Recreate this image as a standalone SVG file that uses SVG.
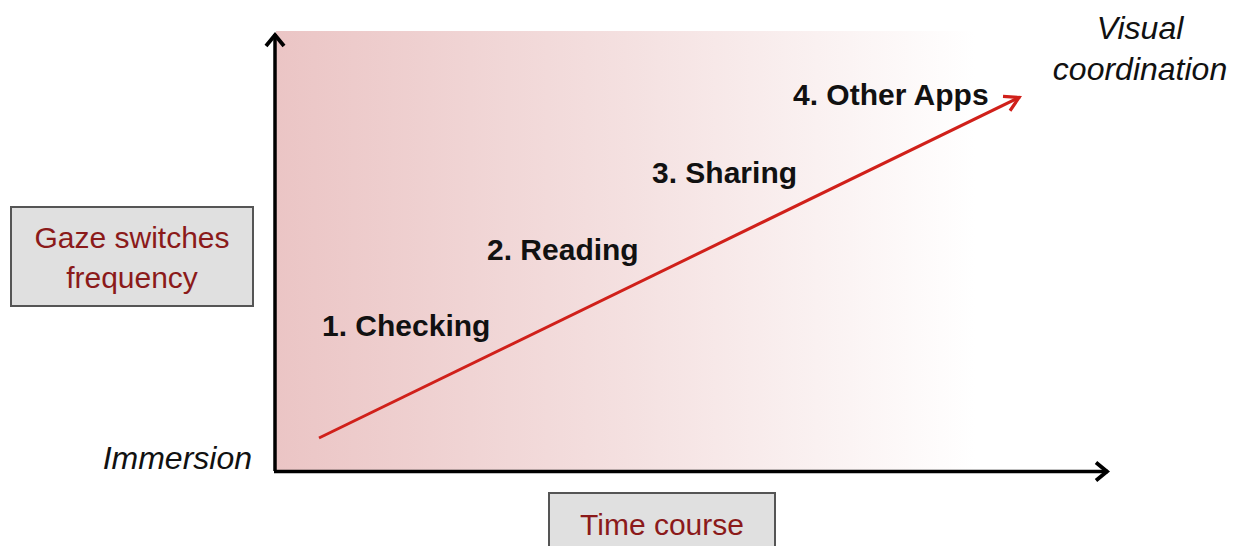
<svg xmlns="http://www.w3.org/2000/svg" width="1242" height="546" viewBox="0 0 1242 546">
<defs>
<linearGradient id="bg" gradientUnits="userSpaceOnUse" x1="276" y1="0" x2="975" y2="0">
<stop offset="0" stop-color="#ebc5c5"/>
<stop offset="0.5" stop-color="#f4e0e0"/>
<stop offset="1" stop-color="#ffffff"/>
</linearGradient>
<marker id="blk" markerWidth="20" markerHeight="24" refX="16" refY="12" orient="auto" markerUnits="userSpaceOnUse">
<path d="M4,3 L15,12 L4,21" fill="none" stroke="#000" stroke-width="3.8" stroke-linejoin="miter"/>
</marker>
<marker id="red" markerWidth="24" markerHeight="24" refX="20" refY="12" orient="auto" markerUnits="userSpaceOnUse">
<path d="M5,4 L19,12 L5,20" fill="none" stroke="#d0201a" stroke-width="3.2"/>
</marker>
<style>
.box{fill:#e0e0e0;stroke:#555;stroke-width:2}
.boxt{font-family:"Liberation Sans",Arial,sans-serif;font-size:30px;fill:#8b1a1a;text-anchor:middle}
.lab{font-family:"Liberation Sans",Arial,sans-serif;font-size:30px;font-weight:bold;fill:#111}
.it{font-family:"Liberation Sans",Arial,sans-serif;font-size:32px;font-style:italic;fill:#111}
.axis{stroke:#000;stroke-width:3.5;fill:none}
</style>
</defs>
<rect x="276" y="31" width="700" height="440" fill="url(#bg)"/>
<g id="connectors">
<line class="axis" x1="275" y1="471" x2="275" y2="34" marker-end="url(#blk)"/>
<line class="axis" x1="274" y1="471.5" x2="1108" y2="471.5" marker-end="url(#blk)"/>
<line x1="319" y1="438" x2="1020" y2="97" stroke="#d0201a" stroke-width="3" marker-end="url(#red)"/>
</g>
<g id="node-gaze">
<rect class="box" x="11" y="207" width="242" height="99"/>
<text class="boxt" x="132" y="248">Gaze switches</text>
<text class="boxt" x="132" y="288">frequency</text>
</g>
<g id="node-time">
<rect class="box" x="549" y="493" width="226" height="60"/>
<text class="boxt" x="662" y="535">Time course</text>
</g>
<g id="node-immersion">
<text class="it" x="252" y="469" text-anchor="end">Immersion</text>
</g>
<g id="node-visual">
<text class="it" x="1140" y="39" text-anchor="middle">Visual</text>
<text class="it" x="1140" y="80" text-anchor="middle">coordination</text>
</g>
<g id="node-checking"><text class="lab" x="322" y="336">1. Checking</text></g>
<g id="node-reading"><text class="lab" x="487" y="260">2. Reading</text></g>
<g id="node-sharing"><text class="lab" x="652" y="183">3. Sharing</text></g>
<g id="node-other"><text class="lab" x="793" y="105">4. Other Apps</text></g>
</svg>
